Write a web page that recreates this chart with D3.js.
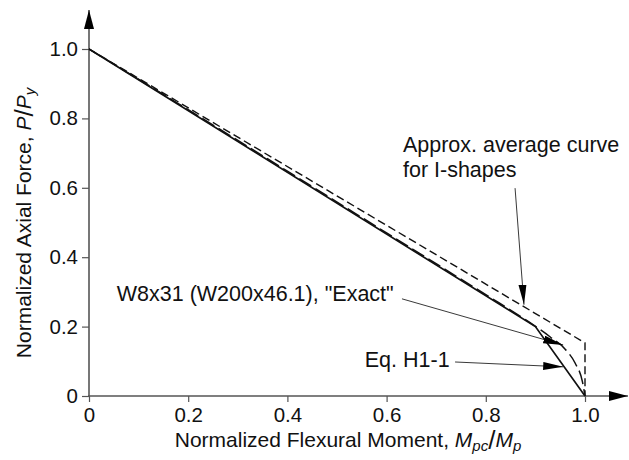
<!DOCTYPE html>
<html>
<head>
<meta charset="utf-8">
<title>P-M interaction</title>
<script src="https://d3js.org/d3.v7.min.js"></script>
<style>
body { margin: 0; background: #fff; }
svg { font-family: 'Liberation Sans', Arial, sans-serif; }
</style>
</head>
<body>
<svg width="629" height="460" id="chart"></svg>
<script>

  // data
  var xTicks = [0, 0.2, 0.4, 0.6, 0.8, 1.0];
  var xTickLabels = ["0", "0.2", "0.4", "0.6", "0.8", "1.0"];
  var yTicks = [0, 0.2, 0.4, 0.6, 0.8, 1.0];
  var yTickLabels = ["0", "0.2", "0.4", "0.6", "0.8", "1.0"];

  // Eq. H1-1 (solid)
  var eqM = [0, 0.9, 1.0];
  var eqP = [1.0, 0.2, 0];

  // W8x31 exact (long dash)
  var exactM = [0, 0.2, 0.4, 0.6, 0.8, 0.88, 0.93, 0.96, 0.98, 0.995, 1.0];
  var exactP = [1.0, 0.825, 0.648, 0.47, 0.292, 0.22, 0.17, 0.135, 0.095, 0.04, 0];

  // approx. average curve for I-shapes (short dash)
  var avgM = [0, 1.0, 1.0];
  var avgP = [1.0, 0.153, 0];

  // annotations: label text, label anchor, arrow tail, arrow tip (data units)
  var noteText = [["Approx. average curve", "for I-shapes"], ["W8x31 (W200x46.1), \"Exact\""], ["Eq. H1-1"]];
  var noteAt = [[0.633, 0.703], [0.056, 0.274], [0.556, 0.084]];
  var noteTail = [[0.859, 0.599], [0.631, 0.28], [0.738, 0.098]];
  var noteTip = [[0.877, 0.263], [0.956, 0.147], [0.956, 0.084]];

  var XScale = d3.scaleLinear().domain([0, 1]).range([89, 585]);
  var YScale = d3.scaleLinear().domain([0, 1]).range([396, 49]);

  var svg = d3.select("#chart");
  var defs = svg.append("defs");

  defs.append("marker")
    .attr("id", "axisHead")
    .attr("markerUnits", "userSpaceOnUse")
    .attr("markerWidth", 20).attr("markerHeight", 12)
    .attr("refX", 19).attr("refY", 5)
    .attr("orient", "auto")
    .append("path")
    .attr("d", "M0,0 L19,5 L0,10 Z")
    .attr("fill", "#000");

  defs.append("marker")
    .attr("id", "noteHead")
    .attr("markerUnits", "userSpaceOnUse")
    .attr("markerWidth", 22).attr("markerHeight", 10)
    .attr("refX", 20).attr("refY", 4)
    .attr("orient", "auto")
    .append("path")
    .attr("d", "M0,0 L20,4 L0,8 Z")
    .attr("fill", "#000");

  // axes
  var xAxis = d3.axisBottom(XScale)
    .tickValues(xTicks)
    .tickFormat(function (d, i) { return xTickLabels[i]; })
    .tickSize(6).tickPadding(5);

  var yAxis = d3.axisLeft(YScale)
    .tickValues(yTicks)
    .tickFormat(function (d, i) { return yTickLabels[i]; })
    .tickSize(7).tickPadding(4);

  var gx = svg.append("g").attr("transform", "translate(0," + YScale(0) + ")").call(xAxis);
  var gy = svg.append("g").attr("transform", "translate(" + XScale(0) + ",0)").call(yAxis);

  [gx, gy].forEach(function (g) {
    g.select(".domain").remove();
    g.selectAll("line").attr("stroke", "#555").attr("stroke-width", 1.2);
    g.selectAll("text")
      .attr("font-size", 20.5)
      .attr("fill", "#111")
      .attr("font-family", "'Liberation Sans', Arial, sans-serif");
  });

  svg.append("line")
    .attr("x1", XScale(0) - 1).attr("y1", YScale(0))
    .attr("x2", 628).attr("y2", YScale(0))
    .attr("stroke", "#555").attr("stroke-width", 1.6)
    .attr("marker-end", "url(#axisHead)");

  svg.append("line")
    .attr("x1", XScale(0)).attr("y1", YScale(0) + 1)
    .attr("x2", XScale(0)).attr("y2", 10)
    .attr("stroke", "#555").attr("stroke-width", 1.6)
    .attr("marker-end", "url(#axisHead)");

  // curves
  function toPoints(ms, ps) {
    return ms.map(function (m, i) { return {x: m, y: ps[i]}; });
  }

  var pathGenerator = d3.line()
    .x(function (d) { return XScale(d.x); })
    .y(function (d) { return YScale(d.y); });

  var smoothGenerator = d3.line()
    .x(function (d) { return XScale(d.x); })
    .y(function (d) { return YScale(d.y); })
    .curve(d3.curveMonotoneX);

  svg.append("path")
    .attr("fill", "none").attr("stroke", "#111").attr("stroke-width", 1.7)
    .attr("d", pathGenerator(toPoints(eqM, eqP)));

  svg.append("path")
    .attr("fill", "none").attr("stroke", "#111").attr("stroke-width", 1.5)
    .attr("stroke-dasharray", "14,5")
    .attr("d", smoothGenerator(toPoints(exactM, exactP)));

  svg.append("path")
    .attr("fill", "none").attr("stroke", "#111").attr("stroke-width", 1.4)
    .attr("stroke-dasharray", "8,4")
    .attr("d", pathGenerator(toPoints(avgM, avgP)));

  // annotations
  noteText.forEach(function (lines, i) {
    var t = svg.append("text")
      .attr("x", XScale(noteAt[i][0]))
      .attr("y", YScale(noteAt[i][1]))
      .attr("font-size", 21.5)
      .attr("fill", "#111");
    lines.forEach(function (s, j) {
      t.append("tspan")
        .attr("x", XScale(noteAt[i][0]))
        .attr("dy", j === 0 ? 0 : 25)
        .text(s);
    });

    svg.append("line")
      .attr("x1", XScale(noteTail[i][0])).attr("y1", YScale(noteTail[i][1]))
      .attr("x2", XScale(noteTip[i][0])).attr("y2", YScale(noteTip[i][1]))
      .attr("stroke", "#222").attr("stroke-width", 0.9)
      .attr("marker-end", "url(#noteHead)");
  });

  // axis titles
  var xt = svg.append("text")
    .attr("x", 348).attr("y", 447)
    .attr("text-anchor", "middle")
    .attr("font-size", 21).attr("fill", "#111");
  xt.append("tspan").text("Normalized Flexural Moment, ");
  xt.append("tspan").attr("font-style", "italic").text("M");
  xt.append("tspan").attr("font-style", "italic").attr("font-size", 15).attr("dy", 4).text("pc");
  xt.append("tspan").attr("font-size", 26).attr("dy", -2).text("/");
  xt.append("tspan").attr("font-style", "italic").attr("dy", -2).text("M");
  xt.append("tspan").attr("font-style", "italic").attr("font-size", 15).attr("dy", 4).text("p");

  var yt = svg.append("text")
    .attr("transform", "translate(31,223) rotate(-90)")
    .attr("text-anchor", "middle")
    .attr("font-size", 21).attr("fill", "#111");
  yt.append("tspan").text("Normalized Axial Force, ");
  yt.append("tspan").attr("font-style", "italic").text("P");
  yt.append("tspan").attr("font-size", 26).attr("dy", 2).text("/");
  yt.append("tspan").attr("font-style", "italic").attr("dy", -2).text("P");
  yt.append("tspan").attr("font-style", "italic").attr("font-size", 15).attr("dy", 4).text("y");

</script>
</body>
</html>
